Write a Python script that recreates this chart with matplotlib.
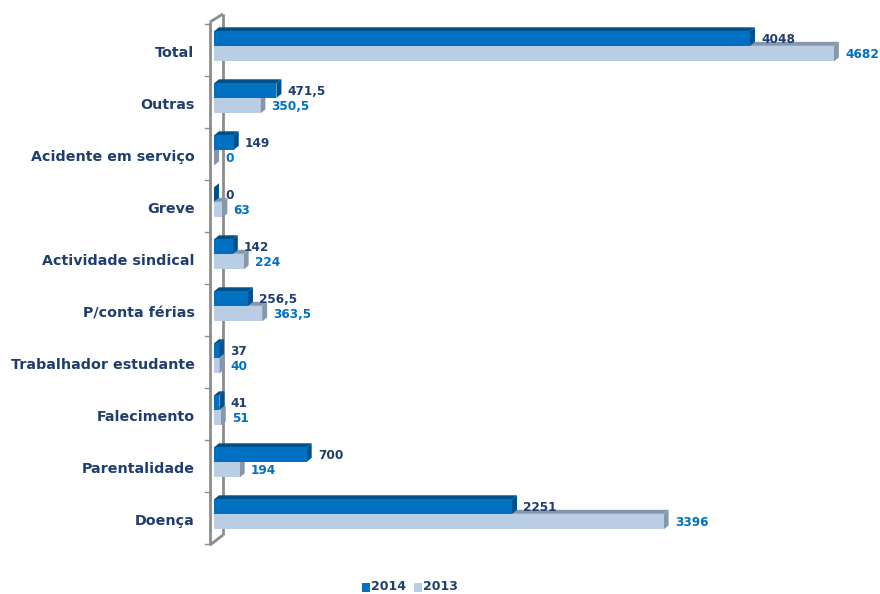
import matplotlib
matplotlib.use("Agg")
import matplotlib.pyplot as plt
from matplotlib.patches import Rectangle, Polygon
from matplotlib.lines import Line2D
import numpy as np

categories = ["Total", "Outras", "Acidente em serviço", "Greve", "Actividade sindical",
              "P/conta férias", "Trabalhador estudante", "Falecimento", "Parentalidade", "Doença"]
values_2014 = [4048, 471.5, 149, 0, 142, 256.5, 37, 41, 700, 2251]
values_2013 = [4682, 350.5, 0, 63, 224, 363.5, 40, 51, 194, 3396]
series_labels = ["2014", "2013"]

FONT = "DejaVu Sans"
NAVY = "#1F3D6E"
C14_FRONT, C14_DARK = "#0070C0", "#00508C"
C13_FRONT, C13_DARK = "#B9CDE5", "#8797AB"
WALL = "#8C8C8C"

W, H = 880, 594
fig = plt.figure(figsize=(W / 100, H / 100), dpi=100)
ax_left, ax_right, ax_top, ax_bot = 214, 876, 24, 544
ax = fig.add_axes([ax_left / W, 1 - ax_bot / H, (ax_right - ax_left) / W, (ax_bot - ax_top) / H])

xmax = 5000
n = len(categories)
ax.set_xlim(0, xmax)
ax.set_ylim(n - 0.5, -0.5)

px_x = (ax_right - ax_left) / xmax          # pixels per data unit (x)
px_y = (ax_bot - ax_top) / n                # pixels per category
dx = 5 / px_x                               # 3D depth offset
dy = 4 / px_y


def bar3d(v, y0, y1, front, dark, z):
    # top face
    ax.add_patch(Polygon([(0, y0), (dx, y0 - dy), (v + dx, y0 - dy), (v, y0)],
                         closed=True, facecolor=dark, edgecolor="none", zorder=z))
    # side face
    ax.add_patch(Polygon([(v, y0), (v + dx, y0 - dy), (v + dx, y1 - dy), (v, y1)],
                         closed=True, facecolor=dark, edgecolor="none", zorder=z))
    # front face
    ax.add_patch(Rectangle((0, y0), v, y1 - y0, facecolor=front, edgecolor="none", zorder=z + 0.1))


def fmt(v):
    return f"{v:g}".replace(".", ",")


lab_off = 85
for i, (a, b) in enumerate(zip(values_2014, values_2013)):
    bar3d(b, i - 0.08, i + 0.22, C13_FRONT, C13_DARK, 3)
    bar3d(a, i - 0.36, i - 0.08, C14_FRONT, C14_DARK, 4)
    ax.text(a + lab_off, i - 0.2, fmt(a), color=NAVY, fontsize=8.7, fontweight="bold",
            family=FONT, va="center", ha="left", zorder=6)
    ax.text(b + lab_off, i + 0.09, fmt(b), color=C14_FRONT, fontsize=8.7, fontweight="bold",
            family=FONT, va="center", ha="left", zorder=6)

# axes styling
for s in ["top", "right", "bottom", "left"]:
    ax.spines[s].set_visible(False)
ax.set_xticks([])
ax.set_yticks(np.arange(n) + 0.03)
ax.set_yticklabels(categories, fontsize=10.3, fontweight="bold", color=NAVY, family=FONT)
ax.tick_params(axis="y", length=0, pad=14)


def fx(p):
    return p / W


def fy(p):
    return 1 - p / H


# 3D back wall: outer and inner vertical lines with slanted ends, plus boundary ticks
wall_kw = dict(color=WALL, lw=2, solid_capstyle="butt", transform=fig.transFigure)
fig.add_artist(Line2D([fx(210), fx(210)], [fy(22), fy(545)], **wall_kw))
fig.add_artist(Line2D([fx(223), fx(223)], [fy(14), fy(535)], **wall_kw))
fig.add_artist(Line2D([fx(210), fx(223)], [fy(22), fy(14)], **wall_kw))
fig.add_artist(Line2D([fx(210), fx(223)], [fy(545), fy(535)], **wall_kw))
for k in range(n + 1):
    yb = ax_top + k * px_y
    fig.add_artist(Line2D([fx(205), fx(210)], [fy(yb), fy(yb)], color=WALL, lw=1,
                          transform=fig.transFigure))
# keep bars above the wall
ax.set_zorder(2)
ax.patch.set_visible(False)

# legend
leg_y = fy(587)
fig.patches.append(Rectangle((fx(362), fy(592)), 8 / W, 9 / H, facecolor=C14_FRONT,
                             transform=fig.transFigure, figure=fig))
fig.text(fx(371), leg_y, series_labels[0], color=NAVY, fontsize=9, fontweight="bold",
         family=FONT, va="center", ha="left")
fig.patches.append(Rectangle((fx(414), fy(592)), 8 / W, 9 / H, facecolor=C13_FRONT,
                             transform=fig.transFigure, figure=fig))
fig.text(fx(423), leg_y, series_labels[1], color=NAVY, fontsize=9, fontweight="bold",
         family=FONT, va="center", ha="left")

fig.savefig("out.png", dpi=100, facecolor="white")
